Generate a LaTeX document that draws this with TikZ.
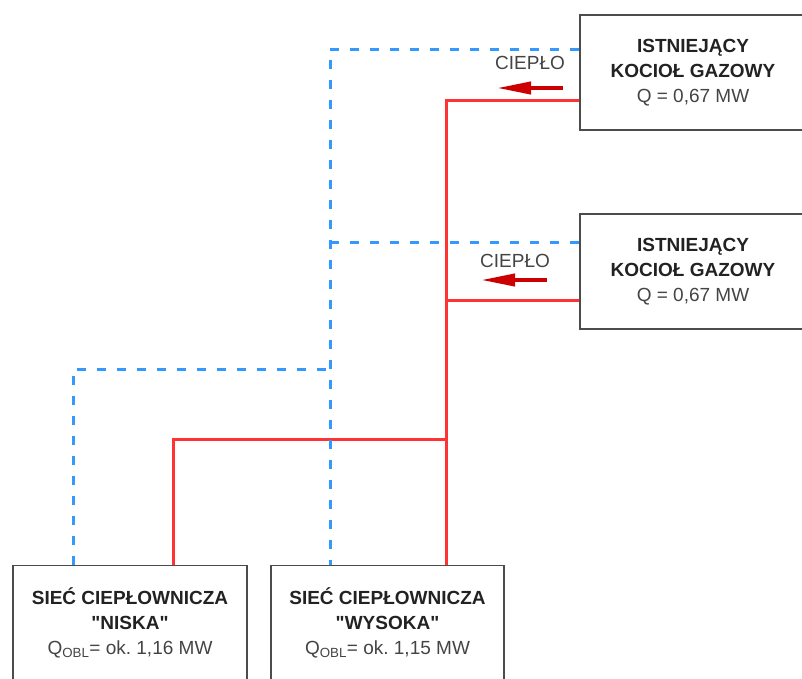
\documentclass[tikz,border=0pt]{standalone}
\usepackage{fontspec}
\setmainfont{Liberation Sans}[Ligatures=TeXOff]
\usetikzlibrary{positioning, calc}
\usetikzlibrary{arrows.meta}

\definecolor{rossa}{HTML}{FF3333}
\definecolor{blu}{HTML}{3399FF}
\definecolor{rossoscuro}{HTML}{CC0000}
\definecolor{grigio}{HTML}{444444}
\definecolor{scuro}{HTML}{222222}

\newcommand{\grassetto}[1]{{\color{scuro}\bfseries #1}}
\frenchspacing

\begin{document}
\begin{tikzpicture}[x=1pt,y=-1pt,
  blocco/.style={draw=black!70, line width=1.6pt, inner sep=0pt,
    minimum width=226pt, minimum height=115pt, align=center,
    text=grigio, font=\fontsize{19}{25}\selectfont},
  ritorno/.style={blu, line width=3pt, dash pattern=on 9pt off 11pt},
  mandata/.style={rossa, line width=3pt},
  freccia/.style={rossoscuro, line width=4pt, -{Triangle[length=34pt,width=12pt]}},
  etichetta/.style={text=grigio, font=\fontsize{19}{25}\selectfont}]

\useasboundingbox (0,0) rectangle (802,678);

% --- Kotly
\node[blocco] (kociol1) at (693,72.5)
  {\grassetto{ISTNIEJĄCY}\\\grassetto{KOCIOŁ GAZOWY}\\Q = 0,67 MW};
\node[blocco] (kociol2) at (693,271.5)
  {\grassetto{ISTNIEJĄCY}\\\grassetto{KOCIOŁ GAZOWY}\\Q = 0,67 MW};

% --- Sieci
\node[blocco, minimum width=234pt] (siecN) at (130,623)
  {\grassetto{SIEĆ CIEPŁOWNICZA}\\\grassetto{"NISKA"}\\Q\textsubscript{OBL}= ok. 1,16 MW};
\node[blocco, minimum width=233pt] (siecW) at (387.5,623)
  {\grassetto{SIEĆ CIEPŁOWNICZA}\\\grassetto{"WYSOKA"}\\Q\textsubscript{OBL}= ok. 1,15 MW};

% --- Punkty przylaczy
\coordinate (b1) at ([yshift=23.5pt]kociol1.west);
\coordinate (r1) at ([yshift=-27.5pt]kociol1.west);
\coordinate (b2) at ([yshift=29.5pt]kociol2.west);
\coordinate (r2) at ([yshift=-28.5pt]kociol2.west);
\coordinate (bW) at ([xshift=-57.5pt]siecW.north);
\coordinate (rW) at ([xshift=58.5pt]siecW.north);
\coordinate (bN) at ([xshift=-57pt]siecN.north);
\coordinate (rN) at ([xshift=43pt]siecN.north);
\coordinate (wb) at (330,369);
\coordinate (wr) at (446,439);

% --- Zasilanie (czerwone)
\draw[mandata] (r1) -| (rW);
\draw[mandata] (r2) -- (r2 -| rW);
\draw[mandata] (rN) |- (wr);

% --- Powrot (niebieskie)
\draw[ritorno] (b1) -| (bW);
\draw[ritorno] (b2) -- (b2 -| bW);
\draw[ritorno] (bN) |- (wb);

% --- Strzalki ciepla
\node[etichetta] (cieplo1) at (530,63) {CIEPŁO};
\node[etichetta] (cieplo2) at (515,261) {CIEPŁO};
\coordinate (f1a) at ([shift={(33,25)}]cieplo1.center);
\coordinate (f1b) at ([shift={(-33,25)}]cieplo1.center);
\coordinate (f2a) at ([shift={(32,19)}]cieplo2.center);
\coordinate (f2b) at ([shift={(-34,19)}]cieplo2.center);
\draw[freccia] (f1a) -- (f1b);
\draw[freccia] (f2a) -- (f2b);

\end{tikzpicture}
\end{document}
